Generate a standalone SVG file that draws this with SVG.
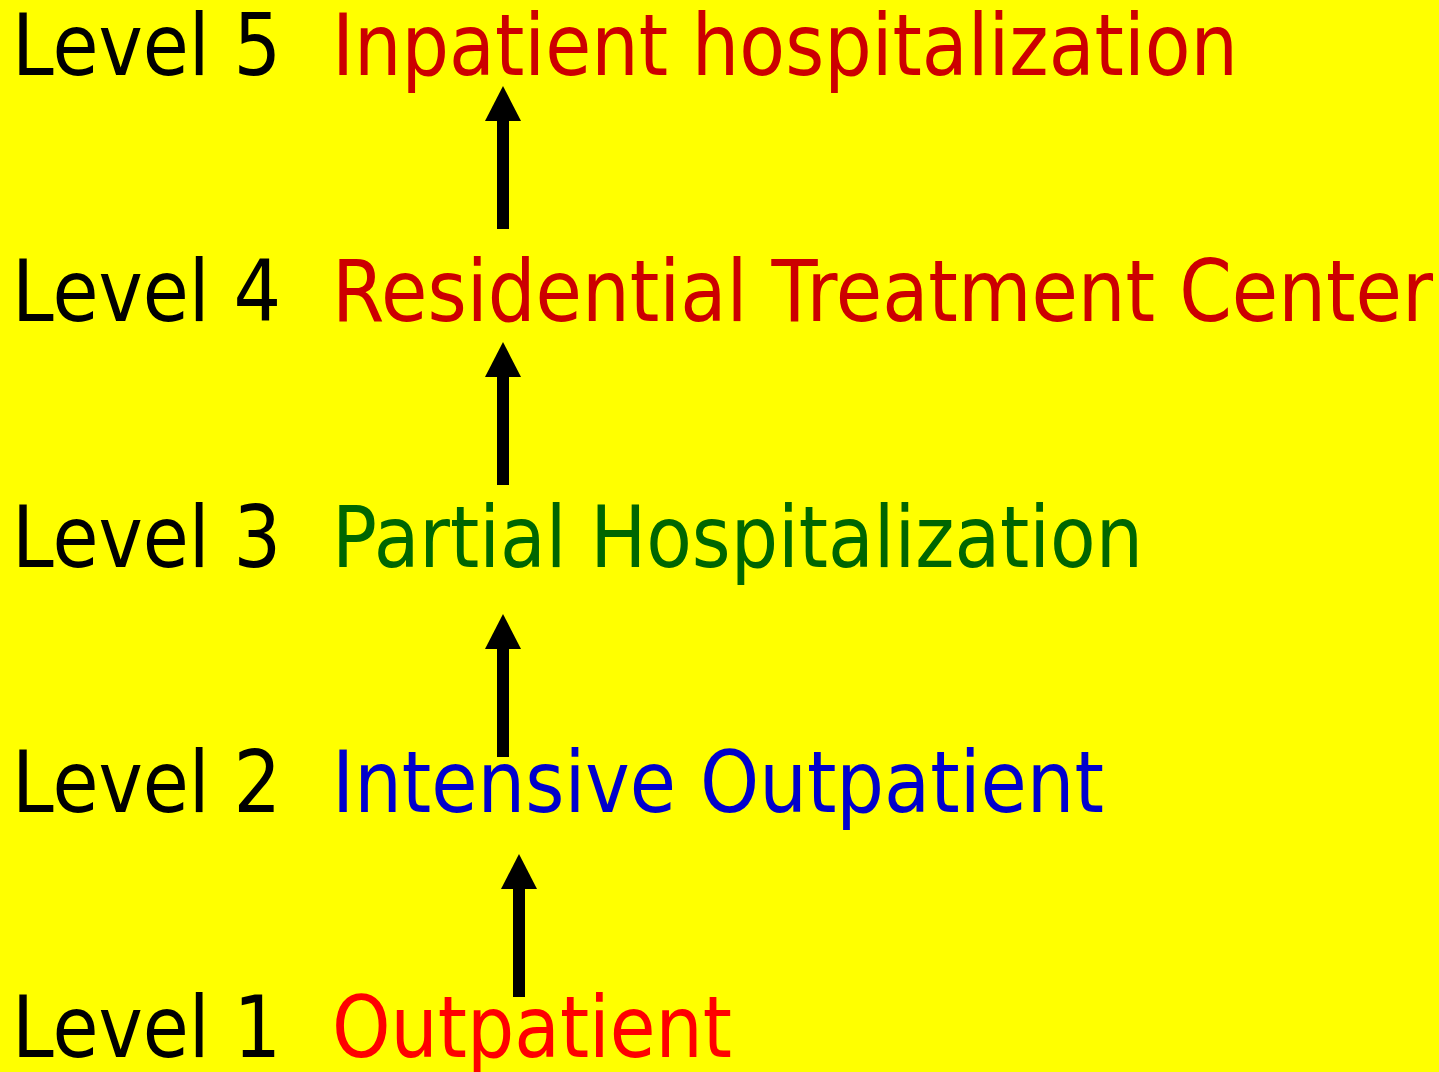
<svg xmlns="http://www.w3.org/2000/svg" width="1439" height="1072" viewBox="0 0 1439 1072">
<style>
text{font-family:"DejaVu Sans","Liberation Sans",sans-serif;font-size:85px}
.lvl{fill:#000000}
.r{fill:#CC0000}
.g{fill:#006600}
.b{fill:#0000CC}
.o{fill:#FF0000}
.arr{stroke:#000000;stroke-width:12;fill:none;marker-end:url(#head)}
</style>
<defs>
<marker id="head" markerUnits="userSpaceOnUse" markerWidth="36" markerHeight="36" viewBox="0 0 35 36" refX="0" refY="18" orient="auto">
<path d="M0,0 L35,18 L0,36 Z" fill="#000000"/>
</marker>
</defs>
<rect x="0" y="0" width="1439" height="1072" fill="#FFFF00"/>
<g id="level5">
<text class="lvl" x="12" y="75" textLength="269" lengthAdjust="spacingAndGlyphs">Level 5</text>
<text class="r" x="332" y="75" textLength="906" lengthAdjust="spacingAndGlyphs">Inpatient hospitalization</text>
</g>
<g id="level4">
<text class="lvl" x="12" y="321" textLength="269" lengthAdjust="spacingAndGlyphs">Level 4</text>
<text class="r" x="332" y="321" textLength="1101" lengthAdjust="spacingAndGlyphs">Residential Treatment Center</text>
</g>
<g id="level3">
<text class="lvl" x="12" y="567" textLength="269" lengthAdjust="spacingAndGlyphs">Level 3</text>
<text class="g" x="332" y="567" textLength="811" lengthAdjust="spacingAndGlyphs">Partial Hospitalization</text>
</g>
<g id="level2">
<text class="lvl" x="12" y="812" textLength="269" lengthAdjust="spacingAndGlyphs">Level 2</text>
<text class="b" x="332" y="812" textLength="772" lengthAdjust="spacingAndGlyphs">Intensive Outpatient</text>
</g>
<g id="level1">
<text class="lvl" x="12" y="1057" textLength="269" lengthAdjust="spacingAndGlyphs">Level 1</text>
<text class="o" x="332" y="1057" textLength="400" lengthAdjust="spacingAndGlyphs">Outpatient</text>
</g>
<g id="connectors">
<line class="arr" x1="503" y1="229" x2="503" y2="121"/>
<line class="arr" x1="503" y1="485" x2="503" y2="377"/>
<line class="arr" x1="503" y1="757" x2="503" y2="649"/>
<line class="arr" x1="519" y1="997" x2="519" y2="889"/>
</g>
</svg>
